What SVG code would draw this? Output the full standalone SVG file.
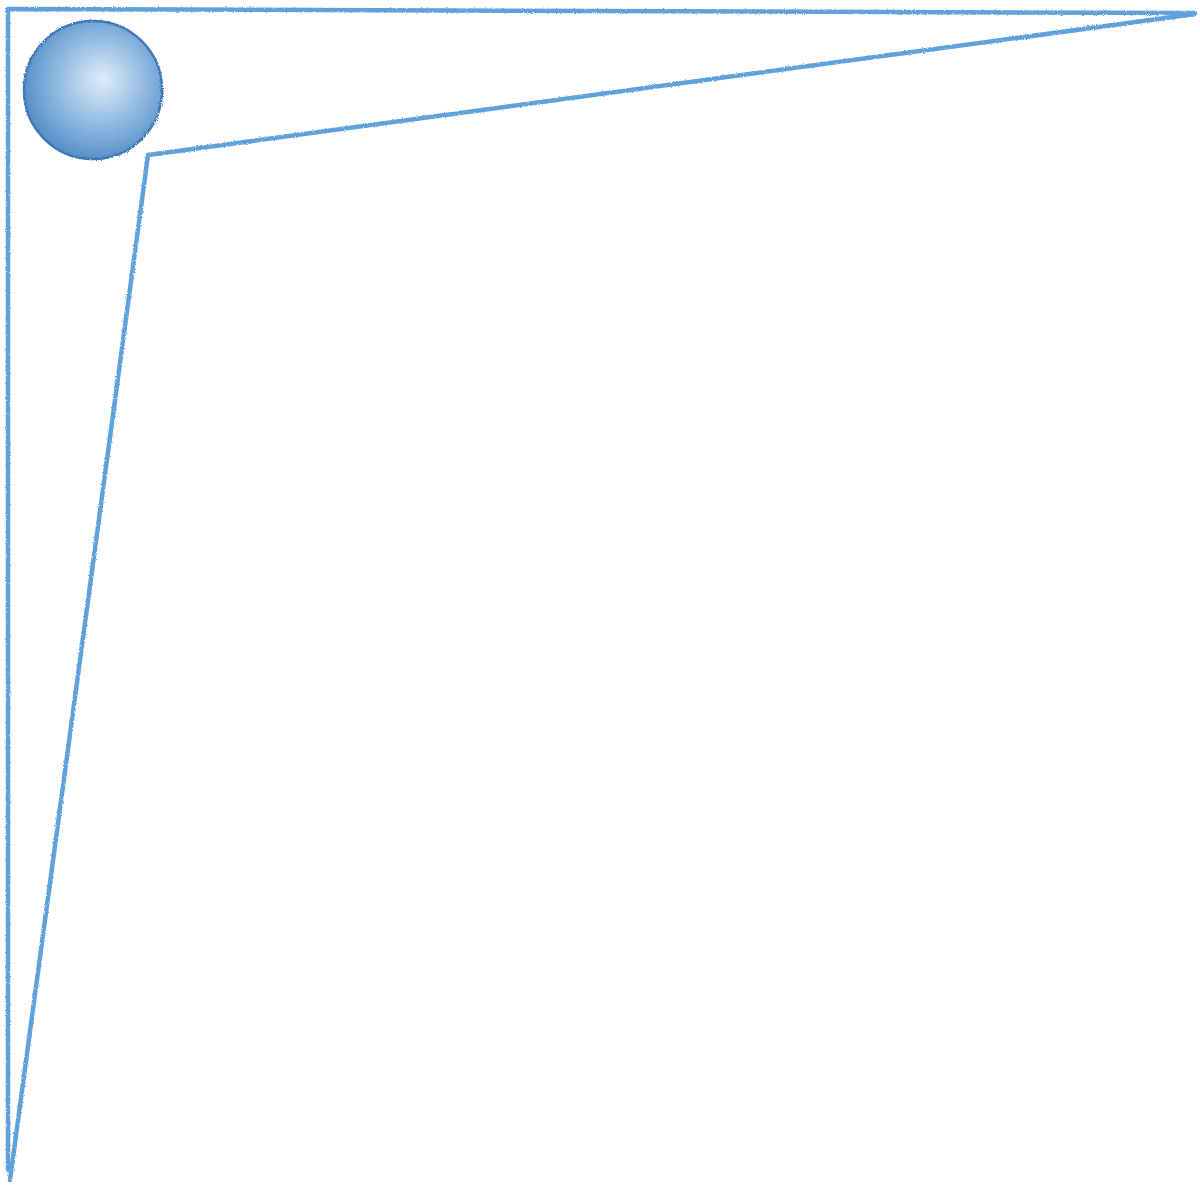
<svg xmlns="http://www.w3.org/2000/svg" width="1200" height="1186" viewBox="0 0 1200 1186">
<style>
.pencil{fill:none;stroke:#5fa2db;stroke-width:4.5;stroke-linecap:round;stroke-linejoin:round}
</style>
<defs>
<radialGradient id="ball" cx="0.55" cy="0.45" r="0.6" fx="0.57" fy="0.42">
<stop offset="0" stop-color="#dfecf8"/>
<stop offset="0.3" stop-color="#b3d0ec"/>
<stop offset="0.7" stop-color="#78a9d8"/>
<stop offset="0.92" stop-color="#5a91c9"/>
<stop offset="1" stop-color="#3f79b6"/>
</radialGradient>
<filter id="grain" x="-5%" y="-5%" width="110%" height="110%">
<feTurbulence type="fractalNoise" baseFrequency="0.9" numOctaves="2" seed="3" result="n"/>
<feDisplacementMap in="SourceGraphic" in2="n" scale="2.5"/>
</filter>
<filter id="ballgrain" x="-5%" y="-5%" width="110%" height="110%">
<feTurbulence type="fractalNoise" baseFrequency="1.2" numOctaves="2" seed="7" result="n"/>
<feDisplacementMap in="SourceGraphic" in2="n" scale="3"/>
</filter>
</defs>
<rect width="1200" height="1186" fill="#ffffff"/>
<g id="frame" filter="url(#grain)">
<path class="pencil" d="M8 1170 L8 9 L1195 13"/>
<path class="pencil" d="M1195 14 L148 155 L10 1180"/>
</g>
<g id="ball-node" filter="url(#ballgrain)">
<circle cx="93" cy="90" r="69" fill="url(#ball)" stroke="#4079b6" stroke-width="2.5"/>
</g>
</svg>
